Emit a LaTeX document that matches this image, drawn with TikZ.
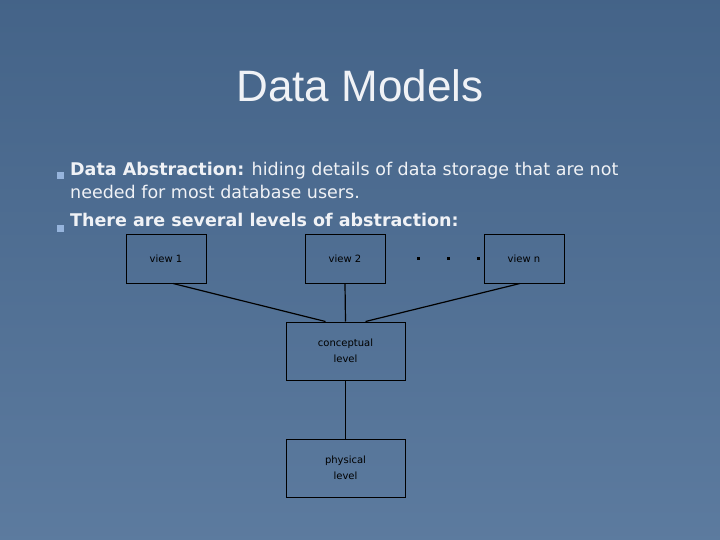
\documentclass[tikz,border=0pt]{standalone}
\usepackage{fontspec}
\setmainfont{DejaVu Sans}
\newfontfamily\titlefont{Liberation Sans}
\usetikzlibrary{positioning}
\definecolor{slidebg}{RGB}{74,108,148}
\definecolor{slidetxt}{RGB}{240,242,246}
\definecolor{bulletc}{RGB}{150,180,220}
\tikzset{
  levelbox/.style={draw=black, line width=1pt, inner sep=0pt},
  boxtext/.style={font=\fontsize{10}{16}\selectfont, text=black, align=center},
  link/.style={black, line width=1.2pt}
}
\begin{document}
\begin{tikzpicture}[x=1pt, y=-1pt]
\useasboundingbox (0,0) rectangle (720,540);
\fill[top color=slidebg!92!black, bottom color=slidebg!90!white] (0,0) rectangle (720,540);
% title
\node[font=\titlefont\fontsize{44}{50}\selectfont, text=slidetxt] (title) at (360,86) {Data Models};
% bullets
\fill[bulletc] (57,172) rectangle (64,179);
\fill[bulletc] (57,225) rectangle (64,232);
\node[anchor=north west, text=slidetxt, align=left, inner sep=0pt,
      font=\fontsize{17.5}{23}\selectfont] (b1) at (70,162)
  {\textbf{Data Abstraction:} hiding details of data storage that are not\\needed for most database users.};
\node[anchor=north west, text=slidetxt, inner sep=0pt,
      font=\fontsize{17.5}{23}\selectfont] (b2) at (70,213)
  {\textbf{There are several levels of abstraction:}};
% boxes
\node[levelbox, minimum width=80pt, minimum height=49pt] (v1) at (166,258.5) {};
\node[boxtext] at (v1) {view 1};
\node[levelbox, minimum width=80pt, minimum height=49pt] (v2) at (345,258.5) {};
\node[boxtext] at (v2) {view 2};
\node[levelbox, minimum width=80pt, minimum height=49pt] (vn) at (524,258.5) {};
\node[boxtext] at (vn) {view n};
\node[levelbox, minimum width=119pt, minimum height=58pt] (cl) at (345.5,351) {};
\node[boxtext] at (cl) {conceptual\\level};
\node[levelbox, minimum width=119pt, minimum height=58pt] (pl) at (345.5,468) {};
\node[boxtext] at (pl) {physical\\level};
\foreach \x in {418,448,478}
  \fill[black] (\x-1.5,256.5) rectangle (\x+1.5,259.5);
% links
\draw[link] ([xshift=7pt]v1.south) -- ([xshift=-20pt]cl.north);
\draw[link] (v2.south) -- (cl.north);
\draw[link] ([xshift=-4pt]vn.south) -- ([xshift=20pt]cl.north);
\draw[link] (cl.south) -- (pl.north);
\end{tikzpicture}
\end{document}
